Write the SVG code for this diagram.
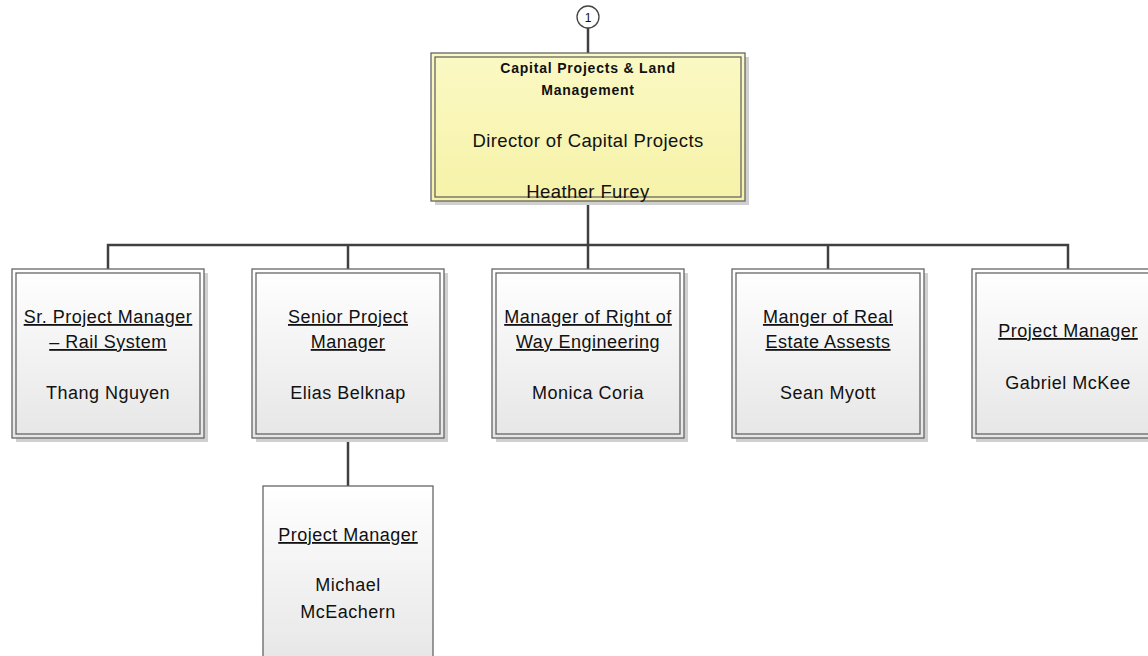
<svg xmlns="http://www.w3.org/2000/svg" width="1148" height="656" viewBox="0 0 1148 656">
<defs>
<linearGradient id="g" x1="0" y1="0" x2="0" y2="1"><stop offset="0" stop-color="#ffffff"/><stop offset="1" stop-color="#e6e6e6"/></linearGradient>
<linearGradient id="y" x1="0" y1="0" x2="0" y2="1"><stop offset="0" stop-color="#fbf9c4"/><stop offset="1" stop-color="#f6f2a8"/></linearGradient>
</defs>
<style>
.t{font-family:"Liberation Sans",Arial,sans-serif;font-size:18px;letter-spacing:0.5px;fill:#111;text-anchor:middle}
.u{text-decoration:underline}
.b{font-weight:bold;font-size:14px;letter-spacing:0.8px}
.d{font-size:18.5px;letter-spacing:0.4px}
.o{fill:url(#g);stroke:#666;stroke-width:1.3}
.i{fill:none;stroke:#666;stroke-width:1.3}
.s{fill:#d0d0d0}
.c{fill:none;stroke:#404040;stroke-width:2.5}
</style>
<rect width="1148" height="656" fill="#fff"/>
<g id="connectors">
<line class="c" x1="588" y1="28" x2="588" y2="53"/>
<line class="c" x1="588" y1="201" x2="588" y2="245"/>
<polyline class="c" points="108,269 108,245 1068,245 1068,269"/>
<line class="c" x1="348" y1="245" x2="348" y2="269"/>
<line class="c" x1="588" y1="245" x2="588" y2="269"/>
<line class="c" x1="828" y1="245" x2="828" y2="269"/>
<line class="c" x1="348" y1="438" x2="348" y2="486"/>
</g>
<g id="ref1">
<circle cx="588" cy="17" r="11" fill="#fff" stroke="#444" stroke-width="1.3"/>
<text class="t" x="588" y="22" style="font-size:12px;letter-spacing:0">1</text>
</g>
<g id="director">
<rect class="s" x="435" y="57" width="314" height="148"/>
<rect x="431" y="53" width="314" height="148" fill="url(#y)" stroke="#666" stroke-width="1.3"/>
<rect class="i" x="435" y="57" width="306" height="140"/>
<text class="t b" x="588" y="73">Capital Projects &amp; Land</text>
<text class="t b" x="588" y="95">Management</text>
<text class="t d" x="588" y="147">Director of Capital Projects</text>
<text class="t d" x="588" y="198">Heather Furey</text>
</g>
<g id="n1">
<rect class="s" x="16" y="273" width="192" height="169"/>
<rect class="o" x="12" y="269" width="192" height="169"/>
<rect class="i" x="16" y="273" width="184" height="161"/>
<text class="t u" x="108" y="323">Sr. Project Manager</text>
<text class="t u" x="108" y="348">– Rail System</text>
<text class="t" x="108" y="399">Thang Nguyen</text>
</g>
<g id="n2">
<rect class="s" x="256" y="273" width="192" height="169"/>
<rect class="o" x="252" y="269" width="192" height="169"/>
<rect class="i" x="256" y="273" width="184" height="161"/>
<text class="t u" x="348" y="323">Senior Project</text>
<text class="t u" x="348" y="348">Manager</text>
<text class="t" x="348" y="399">Elias Belknap</text>
</g>
<g id="n3">
<rect class="s" x="496" y="273" width="192" height="169"/>
<rect class="o" x="492" y="269" width="192" height="169"/>
<rect class="i" x="496" y="273" width="184" height="161"/>
<text class="t u" x="588" y="323">Manager of Right of</text>
<text class="t u" x="588" y="348">Way Engineering</text>
<text class="t" x="588" y="399">Monica Coria</text>
</g>
<g id="n4">
<rect class="s" x="736" y="273" width="192" height="169"/>
<rect class="o" x="732" y="269" width="192" height="169"/>
<rect class="i" x="736" y="273" width="184" height="161"/>
<text class="t u" x="828" y="323">Manger of Real</text>
<text class="t u" x="828" y="348">Estate Assests</text>
<text class="t" x="828" y="399">Sean Myott</text>
</g>
<g id="n5">
<rect class="s" x="976" y="273" width="192" height="169"/>
<rect class="o" x="972" y="269" width="192" height="169"/>
<rect class="i" x="976" y="273" width="184" height="161"/>
<text class="t u" x="1068" y="337">Project Manager</text>
<text class="t" x="1068" y="389">Gabriel McKee</text>
</g>
<g id="n6">
<rect class="o" x="263" y="486" width="170" height="180"/>
<text class="t u" x="348" y="541"> Project Manager</text>
<text class="t" x="348" y="591">Michael</text>
<text class="t" x="348" y="618">McEachern</text>
</g>
</svg>
